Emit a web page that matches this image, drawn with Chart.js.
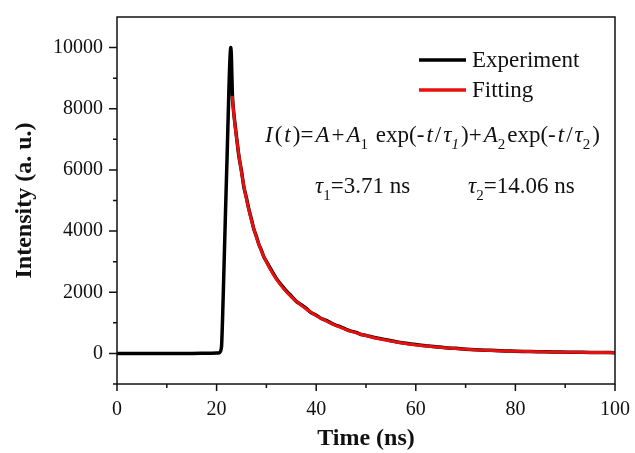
<!DOCTYPE html>
<html><head><meta charset="utf-8">
<script src="https://cdn.jsdelivr.net/npm/chart.js@4.4.1/dist/chart.umd.min.js"></script>
<style>html,body{margin:0;padding:0;background:#fff}canvas{display:block}</style>
</head><body>
<canvas id="c" width="635" height="453"></canvas>
<script>
// ---- data ----
const seriesNames = ['Experiment', 'Fitting'];
const expT = [0, 5, 10, 15, 19, 20, 20.5, 20.8, 21.0, 21.2, 21.5, 21.8, 22.1, 22.4, 22.6, 22.75, 22.85, 22.95, 23.05, 23.2,
  23.5, 24, 24.5, 25, 25.5, 26, 26.5, 27, 27.5, 28, 28.5, 29, 29.5, 30, 31, 32, 33, 34, 35, 36, 37, 38, 39, 40,
  41, 42, 43, 44, 45, 46, 47, 48, 49, 50, 52, 54, 56, 58, 60, 62, 64, 66, 68, 70, 72, 74, 76, 78, 80, 83, 86, 89, 92, 95, 98, 100];
const expI = [0, 0, 0, 0, 5, 10, 20, 70, 250, 1150, 2900, 4700, 6400, 8200, 9300, 9850, 10000, 9800, 9200, 8350,
  7780, 7080, 6420, 5960, 5420, 5080, 4700, 4380, 4050, 3820, 3560, 3370, 3150, 3010, 2720, 2450, 2240, 2040, 1880, 1700, 1590, 1470, 1330, 1250,
  1140, 1080, 990, 920, 860, 790, 730, 690, 620, 590, 510, 450, 380, 330, 290, 250, 220, 185, 165, 140, 120, 105, 95, 80, 72, 60, 52, 45, 38, 33, 28, 25];
const fitT = [23.15, 23.5, 24, 24.5, 25, 25.5, 26, 27, 28, 29, 30, 31, 32, 33, 34, 35, 36, 38, 40, 42, 44, 46, 48, 50, 53, 56, 60, 65, 70, 75, 80, 85, 90, 95, 100];
const fitI = [8420, 7750, 7050, 6450, 5920, 5450, 5040, 4350, 3800, 3350, 2990, 2690, 2430, 2210, 2020, 1850, 1700, 1450, 1230, 1060, 910, 780, 670, 580, 465, 375, 275, 190, 135, 95, 70, 52, 40, 31, 24];
const xTicks = [0, 20, 40, 60, 80, 100];
const yTicks = [0, 2000, 4000, 6000, 8000, 10000];
const xMinor = [10, 30, 50, 70, 90];
const yMinor = [-1000, 1000, 3000, 5000, 7000, 9000];
const xTitle = 'Time (ns)';
const yTitle = 'Intensity (a. u.)';
const tau1Text = '3.71 ns';
const tau2Text = '14.06 ns';

const SERIF = "'Liberation Serif','Times New Roman',serif";

function drawRich(ctx, segs, x, y, size, targetW) {
  const fontOf = s => (s.it ? 'italic ' : '') + (s.sub ? Math.round(size * 0.64) : size) + 'px ' + SERIF;
  const widths = segs.map(s => { ctx.font = fontOf(s); return ctx.measureText(s.s).width; });
  const W = widths.reduce((a, b) => a + b, 0);
  const gaps = segs.filter(s => !s.sub).length - 1;
  const gap = targetW ? (targetW - W) / Math.max(gaps, 1) : 0;
  let cx = x;
  segs.forEach((s, i) => {
    ctx.font = fontOf(s);
    ctx.fillText(s.s, cx, y + (s.sub ? size * 0.3 : 0));
    cx += widths[i] + ((segs[i + 1] && segs[i + 1].sub) ? 0 : gap);
  });
}

const decor = {
  id: 'decor',
  afterDatasetsDraw(chart) {
    const ctx = chart.ctx, a = chart.chartArea;
    const xs = chart.scales.x, ys = chart.scales.y;
    ctx.save();
    ctx.strokeStyle = '#111';
    ctx.lineWidth = 1.5;
    ctx.strokeRect(a.left, a.top, a.right - a.left, a.bottom - a.top);
    ctx.beginPath();
    xTicks.forEach(v => { const p = xs.getPixelForValue(v); ctx.moveTo(p, a.bottom); ctx.lineTo(p, a.bottom + 7); });
    xMinor.forEach(v => { const p = xs.getPixelForValue(v); ctx.moveTo(p, a.bottom); ctx.lineTo(p, a.bottom + 4); });
    yTicks.forEach(v => { const p = ys.getPixelForValue(v); ctx.moveTo(a.left, p); ctx.lineTo(a.left - 8, p); });
    yMinor.forEach(v => { const p = ys.getPixelForValue(v); ctx.moveTo(a.left, p); ctx.lineTo(a.left - 4, p); });
    ctx.stroke();

    // legend
    ctx.fillStyle = '#111';
    ctx.textBaseline = 'alphabetic';
    chart.data.datasets.forEach((ds, i) => {
      const ly = 60 + i * 30;
      ctx.strokeStyle = ds.borderColor;
      ctx.lineWidth = 3.5;
      ctx.beginPath(); ctx.moveTo(419, ly); ctx.lineTo(466, ly); ctx.stroke();
      ctx.font = '23px ' + SERIF;
      ctx.fillText(ds.label, 472, ly + 7);
    });

    // equation
    const eq = [{s:'I',it:1},{s:'('},{s:'t',it:1},{s:')='},{s:'A',it:1},{s:'+'},{s:'A',it:1},{s:'1',sub:1},{s:' exp(-'},
      {s:'t',it:1},{s:'/'},{s:'τ',it:1},{s:'1',sub:1,it:1},{s:')+'},{s:'A',it:1},{s:'2',sub:1},{s:'exp(-'},{s:'t',it:1},{s:'/'},{s:'τ',it:1},{s:'2',sub:1},{s:')'}];
    drawRich(ctx, eq, 265, 142, 23, 335);
    drawRich(ctx, [{s:'τ',it:1},{s:'1',sub:1},{s:'=' + tau1Text}], 315, 193, 23, 0);
    drawRich(ctx, [{s:'τ',it:1},{s:'2',sub:1},{s:'=' + tau2Text}], 468, 193, 23, 0);
    ctx.restore();
  }
};

const tickFont = { family: SERIF, size: 20 };
const titleFont = { family: SERIF, size: 24, weight: 'bold' };
const noPad = s => { s.paddingTop = 0; s.paddingBottom = 0; s.paddingLeft = 0; s.paddingRight = 0; };

new Chart(document.getElementById('c'), {
  type: 'line',
  data: {
    datasets: [
      { label: seriesNames[0], order: 1, data: expT.map((t, i) => ({ x: t, y: expI[i] })), borderColor: '#000000', borderWidth: 3.5, pointRadius: 0, tension: 0.2, fill: false },
      { label: seriesNames[1], order: 0, data: fitT.map((t, i) => ({ x: t, y: fitI[i] })), borderColor: '#e8100e', borderWidth: 3, pointRadius: 0, tension: 0.3, fill: false }
    ]
  },
  options: {
    responsive: false,
    animation: false,
    devicePixelRatio: 1,
    layout: { padding: { left: 0, right: 20, top: 17, bottom: 0 } },
    plugins: { legend: { display: false }, tooltip: { enabled: false } },
    scales: {
      x: {
        type: 'linear', min: 0, max: 100,
        afterBuildTicks: s => { s.ticks = xTicks.map(v => ({ value: v })); },
        afterFit: s => { s.height = 69; noPad(s); },
        grid: { display: false, drawTicks: false },
        border: { display: false },
        ticks: { font: tickFont, color: '#111', padding: 14, maxRotation: 0, callback: v => String(v) },
        title: { display: true, text: xTitle, font: titleFont, color: '#111', padding: { top: 0, bottom: 0 } }
      },
      y: {
        type: 'linear', min: -1000, max: 11000,
        afterBuildTicks: s => { s.ticks = yTicks.map(v => ({ value: v })); },
        afterFit: s => { s.width = 117; noPad(s); },
        grid: { display: false, drawTicks: false },
        border: { display: false },
        ticks: { font: tickFont, color: '#111', padding: 14, callback: v => String(v) },
        title: { display: true, text: yTitle, font: titleFont, color: '#111', padding: { top: 10, bottom: 0 } }
      }
    }
  },
  plugins: [decor]
});
</script>
</body></html>
